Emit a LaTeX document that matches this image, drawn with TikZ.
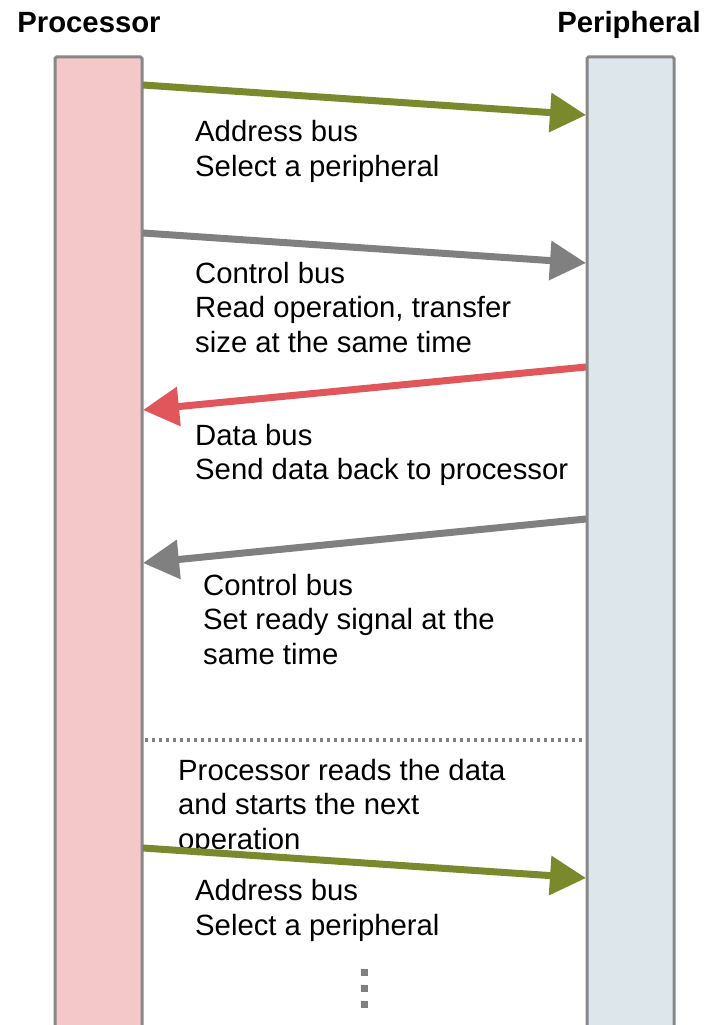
\documentclass[tikz,border=0pt]{standalone}
\usepackage{fontspec}
\setmainfont{Liberation Sans}
\usetikzlibrary{arrows.meta}

\definecolor{busgreen}{HTML}{7A892B}
\definecolor{busgray}{HTML}{808080}
\definecolor{busred}{HTML}{E0565B}
\definecolor{procfill}{HTML}{F4C7C8}
\definecolor{perifill}{HTML}{DCE6EB}
\definecolor{barline}{HTML}{878787}

\tikzset{
  lane/.style={draw=barline, line width=3pt, rounded corners=1.5pt},
  bus/.style={line width=7pt, -{Triangle[length=36pt,width=38pt]}},
  % multi-line labels are placed by the baseline of their last line
  label/.style={anchor=base west, inner sep=0pt, align=left,
    font=\fontsize{29.3}{34.5}\selectfont},
  title/.style={anchor=base, inner sep=0pt,
    font=\fontsize{29.3}{34.5}\selectfont\bfseries},
  sep/.style={draw=busgray, line width=3.2pt, dash pattern=on 3.2pt off 3.8pt},
  ellip/.style={fill=busgray, draw=none}
}

\begin{document}
\begin{tikzpicture}[x=1pt, y=-1pt]
  \useasboundingbox (0,0) rectangle (704,1025);
  \clip (0,0) rectangle (704,1025);

  % the two lanes
  \draw[lane, fill=procfill] (55,57) rectangle (142,1060);
  \draw[lane, fill=perifill] (587,57) rectangle (674,1060);

  \node[title] (proc) at (89,33) {Processor};
  \node[title] (peri) at (629,33) {Peripheral};

  % attachment points on the lane borders
  \coordinate (a1s) at (143,85);   \coordinate (a1e) at (586,115);
  \coordinate (c1s) at (143,233);  \coordinate (c1e) at (586,263);
  \coordinate (d1s) at (586,367);  \coordinate (d1e) at (143,410);
  \coordinate (c2s) at (586,519);  \coordinate (c2e) at (143,563);
  \coordinate (a2s) at (143,848);  \coordinate (a2e) at (586,878);
  \coordinate (sepL) at (145,740); \coordinate (sepR) at (585,740);

  % bus transfers
  \draw[bus, busgreen] (a1s) -- (a1e);
  \node[label] (t1) at (195,176) {Address bus\\Select a peripheral};

  \draw[bus, busgray] (c1s) -- (c1e);
  \node[label] (t2) at (195,352) {Control bus\\Read operation, transfer\\size at the same time};

  \draw[bus, busred] (d1s) -- (d1e);
  \node[label] (t3) at (195,479.5) {Data bus\\Send data back to processor};

  \draw[bus, busgray] (c2s) -- (c2e);
  \node[label] (t4) at (203,664) {Control bus\\Set ready signal at the\\same time};

  % end of the first cycle
  \draw[sep] (sepL) -- (sepR);
  \node[label] (t5) at (178,849) {Processor reads the data\\and starts the next\\operation};

  \draw[bus, busgreen] (a2s) -- (a2e);
  \node[label] (t6) at (195,935) {Address bus\\Select a peripheral};

  % continuation marks
  \fill[ellip] (360.5,968.5) rectangle (367.5,975.5);
  \fill[ellip] (360.5,984.5) rectangle (367.5,991.5);
  \fill[ellip] (360.5,1000.5) rectangle (367.5,1007.5);
\end{tikzpicture}
\end{document}
